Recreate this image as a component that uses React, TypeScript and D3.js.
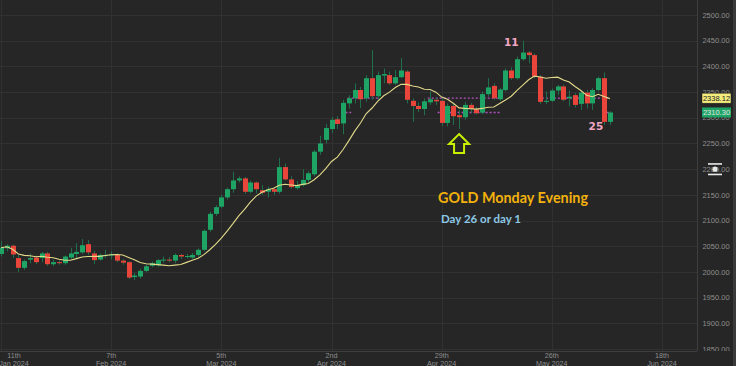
import React from 'react';
import * as d3 from 'd3';

// daily OHLC, 11th Jan 2024 onwards
const opens = [
  2035, 2046, 2051, 2027, 2008, 2024, 2028, 2027, 2036, 2015,
  2019, 2017, 2028, 2035, 2038, 2054, 2036, 2024, 2032, 2032,
  2033, 2022, 2019, 1990, 1991, 2002, 2012, 2013, 2023, 2024,
  2022, 2033, 2030, 2028, 2033, 2043, 2082, 2113, 2127, 2145,
  2161, 2178, 2182, 2156, 2174, 2159, 2156, 2161, 2156, 2204,
  2180, 2163, 2169, 2179, 2190, 2234, 2257, 2278, 2297, 2289,
  2328, 2338, 2354, 2338, 2377, 2342, 2382, 2383, 2367, 2379,
  2390, 2333, 2323, 2317, 2330, 2335, 2333, 2290, 2323, 2305,
  2301, 2325, 2317, 2310, 2346, 2362, 2336, 2354, 2392, 2377,
  2414, 2427, 2422, 2380, 2331, 2333, 2353, 2361, 2338, 2344,
  2327, 2349, 2328, 2354, 2377, 2292,
];
const highs = [
  2060, 2054, 2053, 2033, 2024, 2036, 2032, 2039, 2039, 2024,
  2022, 2032, 2047, 2056, 2064, 2062, 2041, 2036, 2043, 2040,
  2036, 2025, 2021, 1998, 2006, 2015, 2020, 2025, 2030, 2029,
  2036, 2035, 2035, 2037, 2046, 2083, 2117, 2130, 2150, 2164,
  2195, 2186, 2185, 2178, 2176, 2169, 2166, 2163, 2222, 2211,
  2186, 2177, 2200, 2196, 2238, 2265, 2288, 2302, 2303, 2335,
  2344, 2367, 2360, 2383, 2432, 2390, 2396, 2390, 2393, 2416,
  2393, 2338, 2330, 2338, 2351, 2340, 2338, 2328, 2328, 2315,
  2331, 2329, 2321, 2351, 2377, 2367, 2358, 2396, 2398, 2419,
  2450, 2430, 2425, 2383, 2351, 2357, 2364, 2364, 2353, 2348,
  2354, 2354, 2358, 2380, 2388, 2313,
];
const lows = [
  2030, 2040, 2027, 2000, 2004, 2017, 2015, 2019, 2012, 2011,
  2014, 2014, 2025, 2027, 2035, 2033, 2015, 2022, 2027, 2024,
  2019, 2014, 1986, 1984, 1987, 1999, 2009, 2010, 2018, 2019,
  2017, 2025, 2026, 2025, 2030, 2040, 2078, 2109, 2124, 2141,
  2154, 2174, 2152, 2153, 2153, 2150, 2145, 2150, 2152, 2178,
  2162, 2160, 2166, 2174, 2186, 2228, 2250, 2270, 2278, 2268,
  2318, 2328, 2319, 2331, 2335, 2335, 2367, 2364, 2364, 2377,
  2328, 2292, 2311, 2305, 2325, 2325, 2284, 2283, 2286, 2278,
  2296, 2309, 2306, 2307, 2341, 2335, 2333, 2351, 2374, 2374,
  2411, 2406, 2377, 2327, 2327, 2331, 2344, 2332, 2322, 2320,
  2315, 2318, 2315, 2351, 2286, 2286,
];
const closes = [
  2047, 2051, 2034, 2008, 2021, 2027, 2019, 2036, 2015, 2019,
  2017, 2030, 2036, 2039, 2052, 2038, 2023, 2033, 2033, 2034,
  2022, 2018, 1989, 1993, 2002, 2011, 2017, 2023, 2024, 2022,
  2033, 2030, 2031, 2033, 2043, 2080, 2113, 2126, 2145, 2161,
  2178, 2182, 2156, 2174, 2161, 2154, 2161, 2156, 2204, 2180,
  2165, 2169, 2179, 2192, 2234, 2250, 2280, 2296, 2288, 2329,
  2338, 2354, 2336, 2377, 2342, 2383, 2385, 2367, 2379, 2392,
  2335, 2323, 2317, 2332, 2336, 2332, 2290, 2323, 2303, 2301,
  2325, 2317, 2309, 2346, 2359, 2338, 2355, 2392, 2377, 2414,
  2427, 2422, 2380, 2331, 2333, 2353, 2361, 2335, 2341, 2325,
  2349, 2328, 2354, 2377, 2292, 2310.3,
];

const yTicks = [1850, 1900, 1950, 2000, 2050, 2100, 2150, 2200, 2250, 2300, 2350, 2400, 2450, 2500];
const xLabelIndex = [0, 19, 38, 57, 76, 95, 114];
const xLabelDays = ['11th', '7th', '5th', '2nd', '29th', '26th', '18th'];
const xLabelMonths = ['Jan 2024', 'Feb 2024', 'Mar 2024', 'Apr 2024', 'Apr 2024', 'May 2024', 'Jun 2024'];

const maPeriod = 10;
const maLast = 2338.12;
// dotted price levels, drawn between bar indices
const levelLines = [
  { price: 2338.12, from: 59.8, to: 65 },
  { price: 2338.12, from: 73.6, to: 86 },
  { price: 2338.12, from: 92.6, to: 105 },
  { price: 2310.3, from: 59.4, to: 60.4 },
  { price: 2310.3, from: 75.3, to: 86 },
  { price: 2310.3, from: 103.8, to: 105 },
];
// numbered marks: [bar index, price]
const marks = [
  { label: '11', index: 88, price: 2440 },
  { label: '25', index: 102.6, price: 2276 },
];
const arrowIndex = 79;

const W = 736;
const H = 366;
const plotRight = 697;
const plotBottom = 351;

export default function App() {
  const x = d3.scaleLinear().domain([0, 114]).range([1, 662]);
  const y = d3.scaleLinear().domain([1850, 2500]).range([349, 15]);

  const ma = closes.map((_, i) => {
    const s = closes.slice(Math.max(0, i - maPeriod + 1), i + 1);
    return d3.mean(s) as number;
  });
  const maPath = d3.line<number>().x((_, i) => x(i)).y(d => y(d)).curve(d3.curveLinear)(ma) || '';

  const green = '#1ea566';
  const red = '#e9453b';
  const wick = '#1f6e4c';
  const axisText = '#8e8e8e';

  const ax = x(arrowIndex);
  const ay = y(lows[arrowIndex]) + 5;
  const arrowPts = [
    [ax, ay], [ax + 10, ay + 10], [ax + 5, ay + 10], [ax + 5, ay + 19],
    [ax - 5, ay + 19], [ax - 5, ay + 10], [ax - 10, ay + 10],
  ].map(p => p.join(',')).join(' ');

  return (
    <>
      <style>{`body{margin:0;background:#262626}`}</style>
      <svg width={W} height={H} style={{ display: 'block', background: '#262626' }}
        fontFamily="'Liberation Sans', Arial, sans-serif">
        <defs>
          <clipPath id="plot"><rect x={0} y={0} width={plotRight} height={plotBottom} /></clipPath>
          <clipPath id="yaxis"><rect x={plotRight} y={0} width={W - plotRight} height={plotBottom} /></clipPath>
        </defs>

        {/* grid */}
        <g stroke="#313131" strokeWidth={1}>
          {yTicks.map(t => (
            <line key={t} x1={0} x2={plotRight} y1={Math.round(y(t)) + 0.5} y2={Math.round(y(t)) + 0.5} />
          ))}
          {xLabelIndex.map(i => (
            <line key={i} x1={Math.round(x(i)) + 0.5} x2={Math.round(x(i)) + 0.5} y1={0} y2={plotBottom} />
          ))}
        </g>

        <g clipPath="url(#plot)">
          {/* price level dots */}
          {levelLines.map((l, k) => (
            <line key={k} x1={x(l.from)} x2={x(l.to)} y1={y(l.price)} y2={y(l.price)}
              stroke="#b44fc0" strokeWidth={1.3} strokeDasharray="2,2" />
          ))}

          {/* candles */}
          {closes.map((c, i) => {
            const o = opens[i];
            const up = c >= o;
            const cx = Math.round(x(i)) + 0.5;
            const top = y(Math.max(o, c));
            const h = Math.max(1, Math.abs(y(o) - y(c)));
            return (
              <g key={i}>
                <line x1={cx} x2={cx} y1={y(highs[i])} y2={y(lows[i])} stroke={wick} strokeWidth={1} />
                <rect x={cx - 2.5} y={top} width={5} height={h} fill={up ? green : red} />
              </g>
            );
          })}

          {/* moving average */}
          <path d={maPath} fill="none" stroke="#e3da8a" strokeWidth={1.1} />

          {/* annotations */}
          {marks.map(m => (
            <text key={m.label} x={x(m.index)} y={y(m.price)} textAnchor="middle"
              fontFamily="'DejaVu Sans', sans-serif" fontWeight="bold" fontSize={10.5} fill="#f2a6c4">
              {m.label}
            </text>
          ))}
          <polygon points={arrowPts} fill="none" stroke="#c8f000" strokeWidth={2} strokeLinejoin="miter" />
          <text x={438} y={203} fontFamily="Lato, sans-serif" fontWeight="bold" fontSize={14.5}
            fill="#f2b10c" textLength={150} lengthAdjust="spacingAndGlyphs">GOLD Monday Evening</text>
          <text x={441} y={223} fontFamily="Lato, sans-serif" fontWeight="bold" fontSize={10.5}
            fill="#8cc8e6" textLength={80} lengthAdjust="spacingAndGlyphs">Day 26 or day 1</text>
        </g>

        {/* axis borders */}
        <line x1={plotRight + 0.5} x2={plotRight + 0.5} y1={0} y2={plotBottom} stroke="#3e3e3e" />
        <line x1={0} x2={plotRight} y1={plotBottom + 0.5} y2={plotBottom + 0.5} stroke="#3e3e3e" />
        <rect x={733} y={0} width={3} height={H} fill="#3a3a3a" />

        {/* y axis labels */}
        <g clipPath="url(#yaxis)" fontSize={7.5} fill={axisText} textAnchor="middle">
          {yTicks.map(t => (
            <text key={t} x={716} y={y(t) + 2.7}>{d3.format('.2f')(t)}</text>
          ))}
        </g>

        {/* last value boxes */}
        <rect x={702} y={y(maLast) - 5} width={29} height={10} fill="#f4ec7c" stroke="#222" strokeWidth={0.5} />
        <text x={716.5} y={y(maLast) + 2.7} fontSize={7.5} fill="#222" textAnchor="middle">{maLast.toFixed(2)}</text>
        <rect x={702} y={y(closes[closes.length - 1]) - 5} width={29} height={10} fill="#1ea566" />
        <text x={716.5} y={y(closes[closes.length - 1]) + 2.7} fontSize={7.5} fill="#e6e6e6" textAnchor="middle">
          {closes[closes.length - 1].toFixed(2)}
        </text>

        {/* handle icon on the axis */}
        <g fill="#e8e8e8">
          <rect x={708} y={y(2200) - 6} width={14} height={1.6} />
          <rect x={708} y={y(2200) + 4.5} width={14} height={1.6} />
          <circle cx={715} cy={y(2200)} r={2.6} />
        </g>

        {/* x axis labels */}
        <g fontSize={7.2} fill={axisText} textAnchor="middle">
          {xLabelIndex.map((i, k) => {
            const lx = Math.max(x(i), 14);
            return (
              <g key={i}>
                <text x={lx} y={358}>{xLabelDays[k]}</text>
                <text x={lx} y={365.5}>{xLabelMonths[k]}</text>
              </g>
            );
          })}
        </g>
      </svg>
    </>
  );
}
